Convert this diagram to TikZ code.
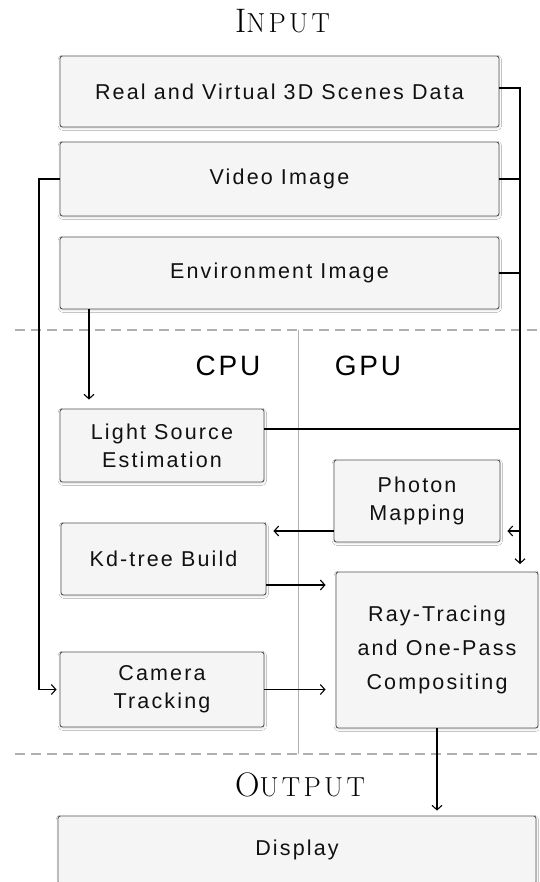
\documentclass[tikz,border=0pt]{standalone}
\usepackage{fontspec}
\setmainfont{Liberation Sans}[LetterSpace=10]
\newfontfamily\titlefont[LetterSpace=12]{Latin Modern Roman}
\usetikzlibrary{arrows.meta,shadows.blur}
\definecolor{boxfill}{HTML}{F5F5F5}
\definecolor{boxborder}{HTML}{555555}
\definecolor{textc}{HTML}{111111}
\definecolor{sepgray}{HTML}{B0B0B0}
\newcommand{\boxfont}{\fontsize{21.5}{28}\selectfont}
\newcommand{\rayfont}{\fontsize{21.5}{34}\selectfont}
\newcommand{\cpufont}{\fontsize{28}{28}\selectfont}
\tikzset{
  box/.style={draw=boxborder, fill=boxfill, rounded corners=2.5pt, line width=0.9pt,
    blur shadow={shadow xshift=0.3pt, shadow yshift=-1.2pt, shadow blur steps=4, shadow opacity=15},
    inner sep=0pt, align=center, font=\boxfont, text=textc},
  conn/.style={line width=1.1pt, draw=black},
  arr/.style={conn, -{Straight Barb[length=4.5pt,width=10pt,line width=1.1pt]}},
  sepdash/.style={draw=sepgray, line width=1.5pt, dash pattern=on 10pt off 6pt},
  sepline/.style={draw=sepgray, line width=1pt},
  title/.style={text=black, inner sep=0pt},
  unit/.style={text=black, inner sep=0pt, font=\cpufont}
}
\begin{document}
\begin{tikzpicture}[x=1pt,y=-1pt]
\useasboundingbox (0,0) rectangle (539,882);
\fill[white] (0,0) rectangle (539,882);

% separators
\draw[sepdash] (15,330) -- (539,330);
\draw[sepdash] (15,754) -- (539,754);
\draw[sepline] (298,330) -- (298,754);

% titles
\node[title] (tin) at (282.5,21) {\titlefont\fontsize{34}{34}\selectfont I\fontsize{27.5}{27.5}\selectfont NPUT};
\node[title] (tout) at (300,785) {\titlefont\fontsize{34}{34}\selectfont O\fontsize{27.5}{27.5}\selectfont UTPUT};
\node[unit] (cpu) at (228,366) {CPU};
\node[unit] (gpu) at (368,366) {GPU};

% boxes
\node[box, minimum width=439pt, minimum height=71pt] (real) at (279.5,91.5) {Real and Virtual 3D Scenes Data};
\node[box, minimum width=439pt, minimum height=74pt] (video) at (279.5,179) {Video Image};
\node[box, minimum width=439pt, minimum height=72pt] (env) at (279.5,273) {Environment Image};
\node[box, minimum width=204pt, minimum height=73pt] (light) at (162,445.5) {Light Source\\Estimation};
\node[box, minimum width=166pt, minimum height=82pt] (photon) at (417,501) {Photon\\Mapping};
\node[box, minimum width=205pt, minimum height=72pt] (kd) at (163.5,559) {Kd-tree Build};
\node[box, minimum width=202pt, minimum height=156pt, font=\rayfont] (ray) at (437,650) {Ray-Tracing\\and One-Pass\\Compositing};
\node[box, minimum width=204pt, minimum height=75pt] (camera) at (162,689.5) {Camera\\Tracking};
\node[box, minimum width=478pt, minimum height=68pt] (display) at (297,850) {Display};

% helper coordinates
\coordinate (busbot) at (520,564);
\coordinate (vleft) at (39,0);
\coordinate (envx) at (89,0);
\coordinate (pho) at ([yshift=-30pt]photon.east);
\coordinate (phw) at ([yshift=-30pt]photon.west);
\coordinate (kde) at ([yshift=-26pt]kd.east);
\coordinate (lse) at ([yshift=16.5pt]light.east);
\coordinate (rse) at ([yshift=3.5pt]real.east);

% connectors
\draw[arr] (rse) -| (busbot);
\draw[conn] (video.east) -- (video.east -| busbot);
\draw[conn] (env.east) -- (env.east -| busbot);
\draw[conn] (lse) -- (lse -| busbot);
\draw[arr, shorten >=7pt] (pho -| busbot) -- (pho);
\draw[arr, shorten >=7pt] (phw) -- (phw -| kd.east);
\draw[arr, shorten >=10pt] (kde) -- (kde -| ray.west);
\draw[arr, shorten >=10pt] (camera.east) -- (camera.east -| ray.west);
\draw[arr, shorten >=3pt] (video.west) -- (video.west -| vleft) |- (camera.west);
\draw[arr, shorten >=9pt] (env.south -| envx) -- (light.north -| envx);
\draw[arr, shorten >=5pt] (ray.south) -- (ray.south |- display.north);
\end{tikzpicture}
\end{document}
